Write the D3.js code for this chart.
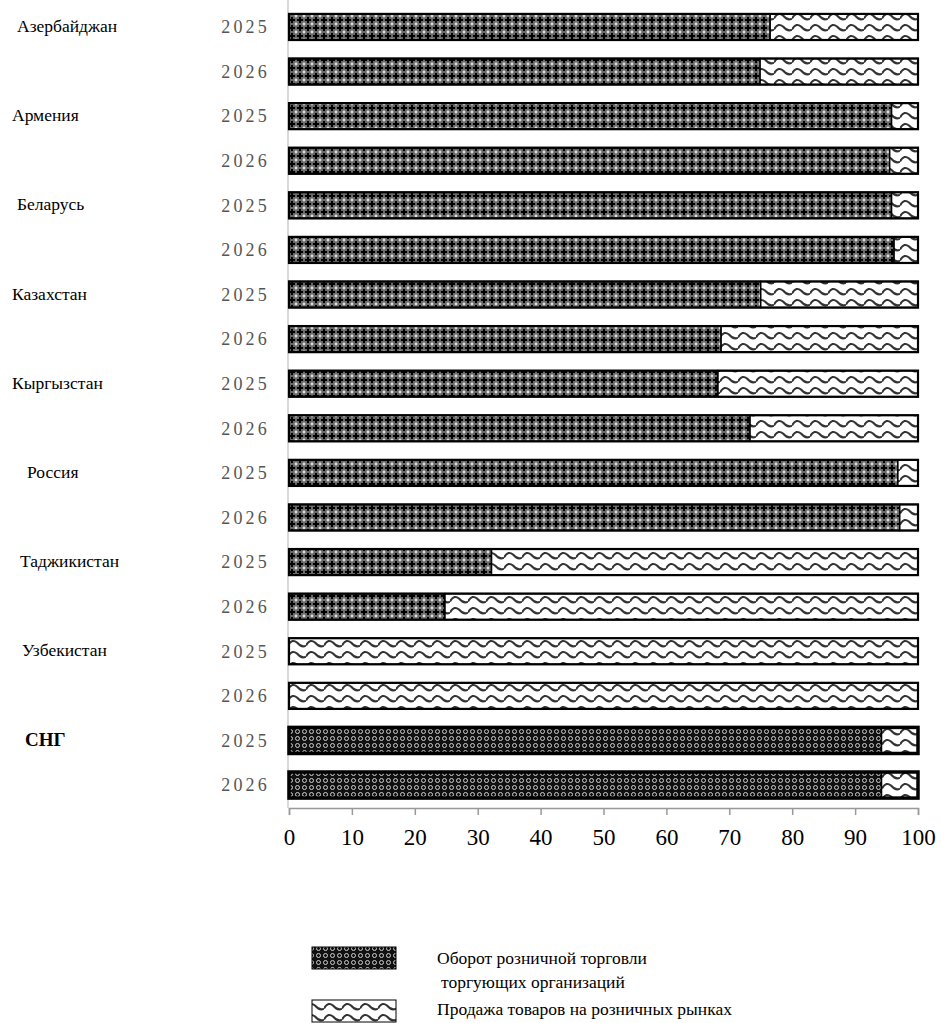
<!DOCTYPE html>
<html><head><meta charset="utf-8">
<script src="https://cdn.jsdelivr.net/npm/d3@7"></script>
<style>body{margin:0;background:#fff}svg{display:block}text{font-family:"Liberation Serif","Times New Roman",serif}</style>
</head><body>
<script>
const countries = ["Азербайджан","Армения","Беларусь","Казахстан","Кыргызстан","Россия","Таджикистан","Узбекистан","СНГ"];
const years = ["2025","2026"];
const retail = [76.5,74.9, 95.8,95.5, 95.8,96.2, 75.0,68.7, 68.2,73.3, 96.8,97.1, 32.2,24.8, 0,0, 94.2,94.2];
const market = [23.5,25.1, 4.2,4.5, 4.2,3.8, 25.0,31.3, 31.8,26.7, 3.2,2.9, 67.8,75.2, 100,100, 5.8,5.8];
const xTicks = [0,10,20,30,40,50,60,70,80,90,100];
const legendLabels = [["Оборот розничной торговли","торгующих организаций"],["Продажа товаров на розничных рынках"]];
const labelDx = [17,12,17,12,12,27,20,22,25];

const W=941,H=1023;
const svg=d3.select("body").append("svg").attr("width",W).attr("height",H);
const defs=svg.append("defs");
// dark pattern
let p=defs.append("pattern").attr("id","dark").attr("patternUnits","userSpaceOnUse").attr("width",8).attr("height",8);
p.append("rect").attr("width",8).attr("height",8).attr("fill","#6a6a6a");
p.append("path").attr("d","M4,1V7M1,4H7").attr("stroke","#000").attr("stroke-width",2);
[[0,0],[8,0],[0,8],[8,8]].forEach(c=>p.append("circle").attr("cx",c[0]).attr("cy",c[1]).attr("r",1.4).attr("fill","#ddd"));
// CIS pattern
let q=defs.append("pattern").attr("id","cis").attr("patternUnits","userSpaceOnUse").attr("width",7).attr("height",7);
q.append("rect").attr("width",7).attr("height",7).attr("fill","#111");
q.append("circle").attr("cx",3.5).attr("cy",3.5).attr("r",2).attr("fill","none").attr("stroke","#ccc").attr("stroke-width",1);
// wave pattern
let w=defs.append("pattern").attr("id","wave").attr("patternUnits","userSpaceOnUse").attr("width",18).attr("height",11);
w.append("rect").attr("width",18).attr("height",11).attr("fill","#fff");
w.append("path").attr("d","M0,7.5 C3,2 6,2 9,4.5 C12,8 15,9.5 18,7.5").attr("fill","none").attr("stroke","#333").attr("stroke-width",2);

const ids=[];countries.forEach((c,i)=>years.forEach((y,j)=>ids.push(i*2+j)));
const x=d3.scaleLinear().domain([0,100]).range([289,918]);
const y=d3.scaleBand().domain(ids).range([5,807]).paddingInner(0.415).paddingOuter(0.2);

// axes
const ax=svg.append("g").attr("transform","translate(0,808)")
  .call(d3.axisBottom(x).tickValues(xTicks).tickSize(7).tickPadding(14));
ax.attr("font-family",null);
ax.select(".domain").attr("stroke","#999").attr("stroke-width",1.5);
ax.selectAll(".tick line").attr("stroke","#999").attr("stroke-width",1.5);
ax.selectAll(".tick text").attr("font-size",23).attr("fill","#000");
svg.append("line").attr("x1",288).attr("x2",288).attr("y1",0).attr("y2",808).attr("stroke","#ccc").attr("stroke-width",1.5);

// bars
const g=svg.append("g");
ids.forEach(k=>{
  const ci=Math.floor(k/2), isCis=countries[ci]==="СНГ";
  const y0=y(k),h=y.bandwidth();
  if(retail[k]>0) g.append("rect").attr("x",x(0)).attr("y",y0).attr("width",x(retail[k])-x(0)).attr("height",h)
     .attr("fill",isCis?"url(#cis)":"url(#dark)").attr("stroke","#000").attr("stroke-width",1.5);
  if(market[k]>0) g.append("rect").attr("x",x(retail[k])).attr("y",y0).attr("width",x(retail[k]+market[k])-x(retail[k])).attr("height",h)
     .attr("fill","url(#wave)").attr("stroke","#000").attr("stroke-width",1.5);
  g.append("rect").attr("x",x(0)).attr("y",y0).attr("width",x(100)-x(0)).attr("height",h)
     .attr("fill","none").attr("stroke","#000").attr("stroke-width",isCis?3.5:2.2);
  g.append("text").attr("x",270).attr("y",y0+h/2).attr("dy","0.35em").attr("text-anchor","end")
     .attr("font-size",18).attr("letter-spacing",3.2).attr("fill","#555")
     .text(years[k%2]);
});
countries.forEach((c,i)=>{
  svg.append("text").attr("x",labelDx[i]).attr("y",y(i*2)+y.bandwidth()/2-1).attr("dy","0.35em")
    .attr("font-size",c==="СНГ"?19:17.5).attr("font-weight",c==="СНГ"?"bold":"normal")
    .attr("fill","#000").text(c);
});

// legend
const lg=svg.append("g");
const sw=[{y:947,f:"url(#cis)"},{y:1000,f:"url(#wave)"}];
sw.forEach((s,i)=>{
  lg.append("rect").attr("x",312).attr("y",s.y).attr("width",84).attr("height",22).attr("fill",s.f).attr("stroke","#000").attr("stroke-width",1);
});
lg.append("text").attr("x",437).attr("y",964).attr("font-size",17.5).text(legendLabels[0][0]);
lg.append("text").attr("x",441).attr("y",988).attr("font-size",17.5).text(legendLabels[0][1]);
lg.append("text").attr("x",437).attr("y",1015).attr("font-size",17.5).text(legendLabels[1][0]);
</script>
</body></html>
